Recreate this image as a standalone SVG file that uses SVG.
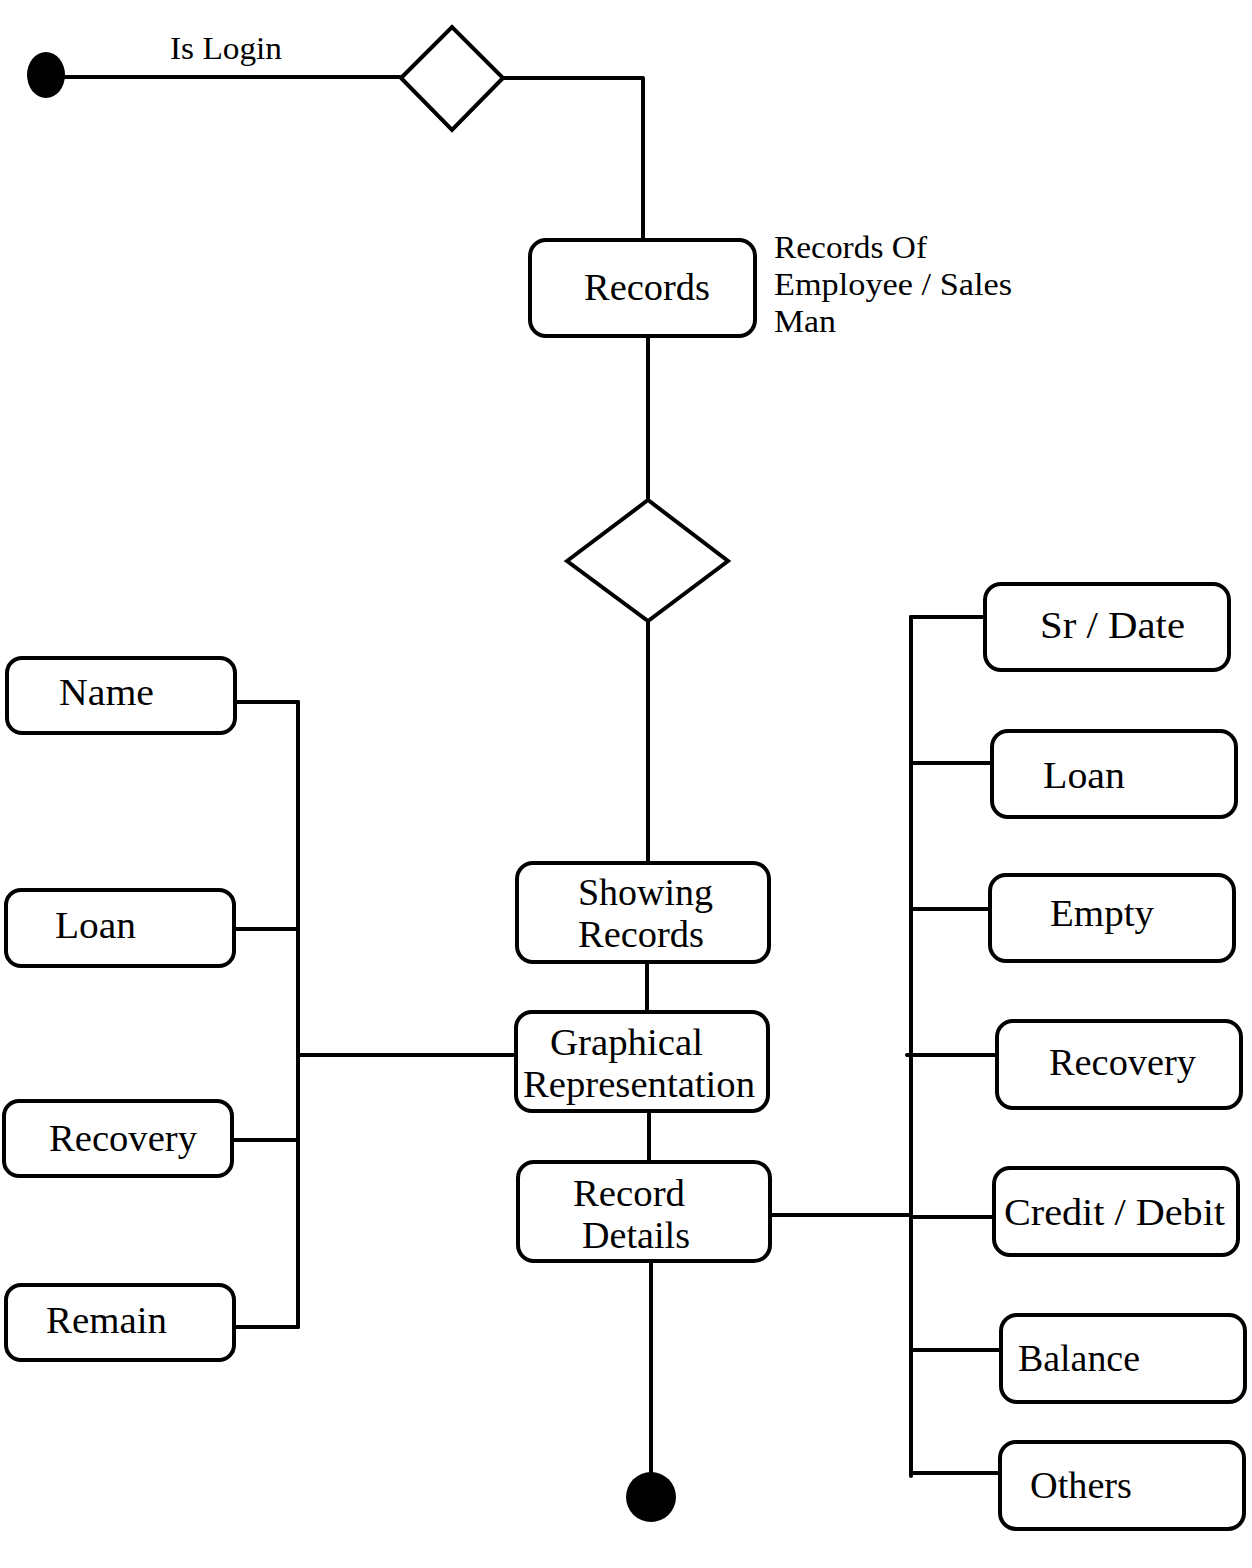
<svg xmlns="http://www.w3.org/2000/svg" width="1252" height="1568" viewBox="0 0 1252 1568">
  <style>
    .box { fill: #fff; stroke: #000; stroke-width: 4; }
    .wire { fill: none; stroke: #000; stroke-width: 4; stroke-linecap: round; stroke-linejoin: round; }
    .lbl { font-family: "Liberation Serif", "Times New Roman", serif; font-size: 38px; fill: #000; }
    .note { font-family: "Liberation Serif", "Times New Roman", serif; font-size: 31px; fill: #000; }
  </style>
  <rect width="1252" height="1568" fill="#fff"/>

  <!-- connectors -->
  <g id="connectors" class="wire">
    <line x1="60" y1="77" x2="401" y2="77"/>
    <polyline points="503,78 643,78 643,240"/>
    <line x1="648" y1="336" x2="648" y2="500"/>
    <line x1="648" y1="621" x2="648" y2="863"/>
    <line x1="647" y1="962" x2="647" y2="1012"/>
    <line x1="649" y1="1111" x2="649" y2="1162"/>
    <line x1="651" y1="1261" x2="651" y2="1475"/>
    <!-- left bus -->
    <line x1="298" y1="702" x2="298" y2="1327"/>
    <line x1="235" y1="702" x2="298" y2="702"/>
    <line x1="234" y1="929" x2="298" y2="929"/>
    <line x1="232" y1="1140" x2="298" y2="1140"/>
    <line x1="234" y1="1327" x2="298" y2="1327"/>
    <line x1="298" y1="1055" x2="516" y2="1055"/>
    <!-- right bus -->
    <line x1="911" y1="617" x2="911" y2="1476"/>
    <line x1="770" y1="1215" x2="911" y2="1215"/>
    <line x1="911" y1="617" x2="985" y2="617"/>
    <line x1="911" y1="763" x2="996" y2="763"/>
    <line x1="911" y1="909" x2="989" y2="909"/>
    <line x1="907" y1="1055" x2="999" y2="1055"/>
    <line x1="911" y1="1217" x2="993" y2="1217"/>
    <line x1="911" y1="1350" x2="1000" y2="1350"/>
    <line x1="911" y1="1473" x2="999" y2="1473"/>
  </g>

  <!-- start / end -->
  <g id="start"><ellipse cx="46" cy="75" rx="19" ry="23" fill="#000"/></g>
  <g id="end"><circle cx="651" cy="1497" r="25" fill="#000"/></g>

  <!-- decisions -->
  <g id="decision-login">
    <polygon class="box" points="401,78 452,27 503,78 452,130"/>
    <text class="note" x="170" y="59" textLength="112" lengthAdjust="spacingAndGlyphs">Is Login</text>
  </g>
  <g id="decision-records">
    <polygon class="box" points="567,561 648,500 728,561 648,621"/>
  </g>

  <!-- main flow -->
  <g id="records">
    <rect class="box" x="530" y="240" width="225" height="96" rx="16"/>
    <text class="lbl" x="584" y="300" font-size="39" textLength="126" lengthAdjust="spacingAndGlyphs">Records</text>
    <text class="note" x="774" y="258" textLength="153" lengthAdjust="spacingAndGlyphs">Records Of</text>
    <text class="note" x="774" y="295" textLength="238" lengthAdjust="spacingAndGlyphs">Employee / Sales</text>
    <text class="note" x="774" y="332" textLength="62" lengthAdjust="spacingAndGlyphs">Man</text>
  </g>
  <g id="showing-records">
    <rect class="box" x="517" y="863" width="252" height="99" rx="16"/>
    <text class="lbl" x="578" y="905" textLength="135" lengthAdjust="spacingAndGlyphs">Showing</text>
    <text class="lbl" x="578" y="947" textLength="126" lengthAdjust="spacingAndGlyphs">Records</text>
  </g>
  <g id="graphical-representation">
    <rect class="box" x="516" y="1012" width="252" height="99" rx="16"/>
    <text class="lbl" x="550" y="1055" textLength="153" lengthAdjust="spacingAndGlyphs">Graphical</text>
    <text class="lbl" x="523" y="1097" textLength="232" lengthAdjust="spacingAndGlyphs">Representation</text>
  </g>
  <g id="record-details">
    <rect class="box" x="518" y="1162" width="252" height="99" rx="16"/>
    <text class="lbl" x="573" y="1206" textLength="112" lengthAdjust="spacingAndGlyphs">Record</text>
    <text class="lbl" x="582" y="1248" textLength="108" lengthAdjust="spacingAndGlyphs">Details</text>
  </g>

  <!-- left attributes -->
  <g id="left-name">
    <rect class="box" x="7" y="658" width="228" height="75" rx="15"/>
    <text class="lbl" x="59" y="705" textLength="95" lengthAdjust="spacingAndGlyphs">Name</text>
  </g>
  <g id="left-loan">
    <rect class="box" x="6" y="890" width="228" height="76" rx="15"/>
    <text class="lbl" x="55" y="938" textLength="81" lengthAdjust="spacingAndGlyphs">Loan</text>
  </g>
  <g id="left-recovery">
    <rect class="box" x="4" y="1101" width="228" height="75" rx="15"/>
    <text class="lbl" x="49" y="1151" textLength="148" lengthAdjust="spacingAndGlyphs">Recovery</text>
  </g>
  <g id="left-remain">
    <rect class="box" x="6" y="1285" width="228" height="75" rx="15"/>
    <text class="lbl" x="46" y="1333" textLength="121" lengthAdjust="spacingAndGlyphs">Remain</text>
  </g>

  <!-- right attributes -->
  <g id="right-sr-date">
    <rect class="box" x="985" y="584" width="244" height="86" rx="16"/>
    <text class="lbl" x="1040" y="638" textLength="145" lengthAdjust="spacingAndGlyphs">Sr / Date</text>
  </g>
  <g id="right-loan">
    <rect class="box" x="992" y="731" width="244" height="86" rx="16"/>
    <text class="lbl" x="1043" y="788" textLength="82" lengthAdjust="spacingAndGlyphs">Loan</text>
  </g>
  <g id="right-empty">
    <rect class="box" x="990" y="875" width="244" height="86" rx="16"/>
    <text class="lbl" x="1050" y="926" textLength="104" lengthAdjust="spacingAndGlyphs">Empty</text>
  </g>
  <g id="right-recovery">
    <rect class="box" x="997" y="1021" width="244" height="87" rx="16"/>
    <text class="lbl" x="1049" y="1075" textLength="147" lengthAdjust="spacingAndGlyphs">Recovery</text>
  </g>
  <g id="right-credit-debit">
    <rect class="box" x="994" y="1168" width="244" height="87" rx="16"/>
    <text class="lbl" x="1004" y="1225" textLength="221" lengthAdjust="spacingAndGlyphs">Credit / Debit</text>
  </g>
  <g id="right-balance">
    <rect class="box" x="1001" y="1315" width="244" height="87" rx="16"/>
    <text class="lbl" x="1018" y="1371" textLength="122" lengthAdjust="spacingAndGlyphs">Balance</text>
  </g>
  <g id="right-others">
    <rect class="box" x="1000" y="1442" width="244" height="87" rx="16"/>
    <text class="lbl" x="1030" y="1498" textLength="102" lengthAdjust="spacingAndGlyphs">Others</text>
  </g>
</svg>
